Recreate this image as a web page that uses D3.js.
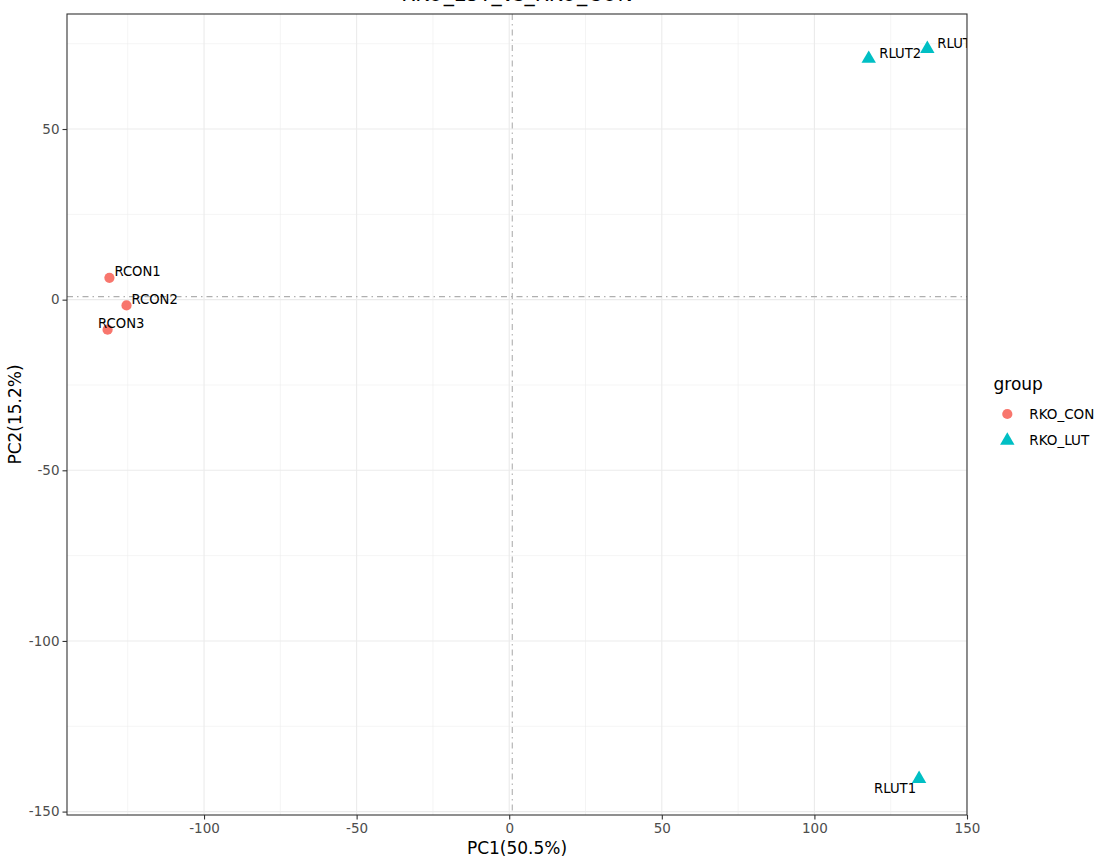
<!DOCTYPE html>
<html>
<head>
<meta charset="utf-8">
<script src="https://cdn.jsdelivr.net/npm/d3@7"></script>
<style>
  html, body { margin: 0; padding: 0; background: #fff; }
  svg { display: block; font-family: "DejaVu Sans", sans-serif; }
</style>
</head>
<body>
<svg id="chart" width="1104" height="861"></svg>
<script>
// ---- data ----
const samples = ["RCON1", "RCON2", "RCON3", "RLUT1", "RLUT2", "RLUT3"];
const groups  = ["RKO_CON", "RKO_CON", "RKO_CON", "RKO_LUT", "RKO_LUT", "RKO_LUT"];
const pc1     = [-131.0, -125.4, -131.6, 134.3, 117.8, 137.0];
const pc2     = [6.4, -1.7, -8.8, -140.4, 70.6, 73.5];
const groupNames = ["RKO_CON", "RKO_LUT"];
const xTicks = [-100, -50, 0, 50, 100, 150];
const yTicks = [-150, -100, -50, 0, 50];
const xMinor = [-125, -75, -25, 25, 75, 125];
const yMinor = [-125, -75, -25, 25, 75];
const refX = 1.0, refY = 0.9;
const titleText = "RKO_LUT_vs_RKO_CON";
const xTitle = "PC1(50.5%)";
const yTitle = "PC2(15.2%)";
// label placement (px offsets from point, text left edge / vertical centre)
const labelDx = [5, 5, -9.5, -45, 10.5, 10];
const labelDy = [-6.3, -6.5, -6.8, 9.5, -5.3, -5.3];

// ---- layout ----
const svg = d3.select("#chart");
const P = {left: 67, right: 967, top: 14, bottom: 815};
const x = d3.scaleLinear().domain([-144.9, 150]).range([P.left, P.right]);
const y = d3.scaleLinear().domain([-151.0, 83.7]).range([P.bottom, P.top]);
const color = d3.scaleOrdinal().domain(groupNames).range(["#F8766D", "#00BFC4"]);
const shape = d3.scaleOrdinal().domain(groupNames).range([d3.symbolCircle, d3.symbolTriangle]);

svg.append("defs").append("clipPath").attr("id", "panelClip")
  .append("rect").attr("x", P.left).attr("y", P.top)
  .attr("width", P.right - P.left).attr("height", P.bottom - P.top);

const panel = svg.append("g").attr("clip-path", "url(#panelClip)");
panel.append("rect").attr("x", P.left).attr("y", P.top)
  .attr("width", P.right - P.left).attr("height", P.bottom - P.top).attr("fill", "#fff");

// minor grid
panel.selectAll(".xminor").data(xMinor).join("line")
  .attr("x1", d => x(d)).attr("x2", d => x(d)).attr("y1", P.top).attr("y2", P.bottom)
  .attr("stroke", "#EBEBEB").attr("stroke-width", 0.55);
panel.selectAll(".yminor").data(yMinor).join("line")
  .attr("y1", d => y(d)).attr("y2", d => y(d)).attr("x1", P.left).attr("x2", P.right)
  .attr("stroke", "#EBEBEB").attr("stroke-width", 0.55);
// major grid
panel.selectAll(".xmajor").data(xTicks).join("line")
  .attr("x1", d => x(d)).attr("x2", d => x(d)).attr("y1", P.top).attr("y2", P.bottom)
  .attr("stroke", "#EBEBEB").attr("stroke-width", 1.1);
panel.selectAll(".ymajor").data(yTicks).join("line")
  .attr("y1", d => y(d)).attr("y2", d => y(d)).attr("x1", P.left).attr("x2", P.right)
  .attr("stroke", "#EBEBEB").attr("stroke-width", 1.1);

// reference lines
panel.append("line").attr("x1", x(refX)).attr("x2", x(refX)).attr("y1", P.top).attr("y2", P.bottom)
  .attr("stroke", "#AFAFAF").attr("stroke-width", 1.1).attr("stroke-dasharray", "6,4,1.5,4");
panel.append("line").attr("y1", y(refY)).attr("y2", y(refY)).attr("x1", P.left).attr("x2", P.right)
  .attr("stroke", "#AFAFAF").attr("stroke-width", 1.1).attr("stroke-dasharray", "6,4,1.5,4");

// points
const pts = samples.map((s, i) => ({s, g: groups[i], px: pc1[i], py: pc2[i], dx: labelDx[i], dy: labelDy[i]}));
panel.selectAll(".pt").data(pts).join("path")
  .attr("transform", d => `translate(${x(d.px)},${y(d.py)})`)
  .attr("d", d => d3.symbol().type(shape(d.g)).size(d.g === "RKO_CON" ? 82 : 90)())
  .attr("fill", d => color(d.g));

// labels
panel.selectAll(".lab").data(pts).join("text")
  .attr("x", d => x(d.px) + d.dx).attr("y", d => y(d.py) + d.dy + 4.7)
  .attr("font-size", 13.2).attr("fill", "#000").text(d => d.s);

// border
svg.append("rect").attr("x", P.left).attr("y", P.top)
  .attr("width", P.right - P.left).attr("height", P.bottom - P.top)
  .attr("fill", "none").attr("stroke", "#333").attr("stroke-width", 1.1);

// axes
const xAxis = svg.append("g").attr("transform", `translate(0,${P.bottom})`)
  .call(d3.axisBottom(x).tickValues(xTicks).tickSize(4.5).tickPadding(3).tickFormat(d3.format("d")));
const yAxis = svg.append("g").attr("transform", `translate(${P.left},0)`)
  .call(d3.axisLeft(y).tickValues(yTicks).tickSize(4.5).tickPadding(3).tickFormat(d3.format("d")));
[xAxis, yAxis].forEach(a => {
  a.select(".domain").remove();
  a.selectAll(".tick line").attr("stroke", "#333").attr("stroke-width", 1.1);
  a.selectAll(".tick text").attr("fill", "#4D4D4D").attr("font-size", 13.5)
    .attr("font-family", "DejaVu Sans, sans-serif").text(function(d){ return String(d).replace("−","-"); });
});
xAxis.selectAll(".tick text").attr("dy", "0.75em");

// titles
svg.append("text").attr("x", (P.left + P.right) / 2).attr("y", 0.5)
  .attr("text-anchor", "middle").attr("font-size", 20.4).attr("fill", "#000").text(titleText);
svg.append("text").attr("x", (P.left + P.right) / 2).attr("y", 854)
  .attr("text-anchor", "middle").attr("font-size", 17).attr("fill", "#000").text(xTitle);
svg.append("text").attr("transform", `translate(21,${(P.top + P.bottom) / 2}) rotate(-90)`)
  .attr("text-anchor", "middle").attr("font-size", 17).attr("fill", "#000").text(yTitle);

// legend
const leg = svg.append("g");
leg.append("text").attr("x", 993.5).attr("y", 390).attr("font-size", 17).attr("fill", "#000").text("group");
const legItems = leg.selectAll(".li").data(groupNames).join("g")
  .attr("transform", (d, i) => `translate(1007.3,${414 + i * 26.5})`);
legItems.append("path")
  .attr("d", d => d3.symbol().type(shape(d)).size(d === "RKO_CON" ? 82 : 90)())
  .attr("fill", d => color(d));
legItems.append("text").attr("x", 22).attr("y", 4.6).attr("font-size", 13.5).attr("fill", "#000").text(d => d);
</script>
</body>
</html>
